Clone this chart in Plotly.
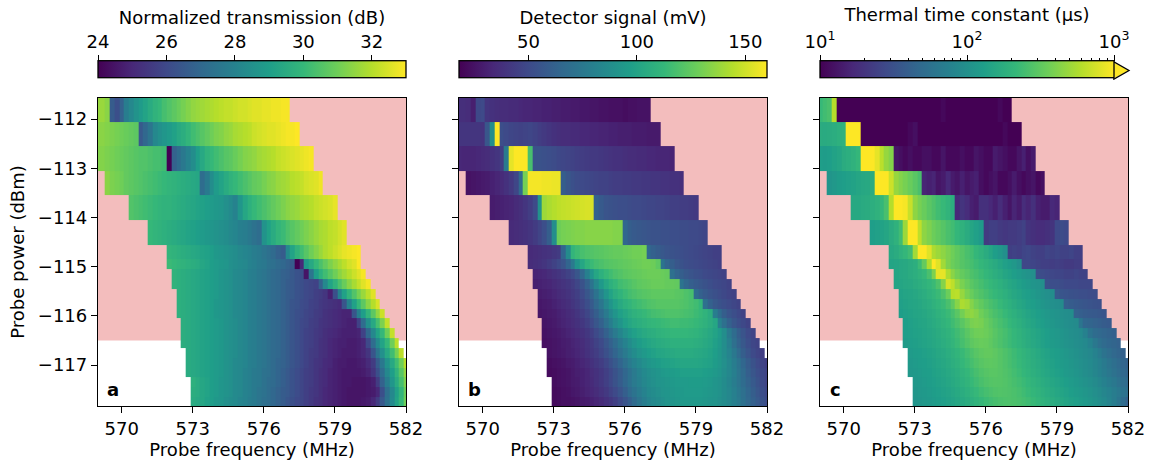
import numpy as np
import plotly.graph_objects as go

W, H = 1153, 467
FONT = "DejaVu Sans"
PINK = "#f3bdbd"

FREQ_TICKS = [570, 573, 576, 579, 582]
POWER_TICKS = [-112, -113, -114, -115, -116, -117]
FREQ_FIRST_EDGE = 568.9
FREQ_STEP = 0.2
N_FREQ = 66
POWER_EDGES = [-111.55, -112.05, -112.55, -113.05, -113.55, -114.05, -114.55, -114.85,
               -115.05, -115.25, -115.45, -115.65, -115.85, -116.05, -116.25, -116.45,
               -116.65, -116.85, -117.05, -117.25, -117.45, -117.65, -117.85]
ROW_STARTS = [0, 0, 0, 2, 7, 11, 15, 15, 16, 16, 17, 17, 17, 18, 18, 18, 19, 19, 19, 20, 20, 20]
ROW_ENDS = [41, 43, 46, 48, 51, 53, 56, 56, 57, 58, 59, 60, 61, 62, 63, 64, 65, 66, 66, 66, 66, 66]

# Normalized transmission, tenths of a dB
TRANSMISSION = [
 [316,316,314,266,262,268,278,282,286,289,292,295,298,300,303,305,307,309,311,313,315,316,317,318,319,320,321,322,322,323,324,324,325,326,326,327,327,328,328,329,329],
 [314,314,313,312,311,310,309,308,307,265,270,275,282,285,287,289,291,294,296,299,302,304,306,308,310,312,313,315,316,318,319,320,321,323,324,325,326,326,327,328,329,329,330],
 [313,313,312,311,310,309,308,307,306,305,305,304,303,303,302,240,268,272,276,280,284,290,294,298,300,302,304,306,307,309,311,313,314,315,317,318,319,320,322,323,324,325,326,327,328,329],
 [314,312,311,310,308,307,306,305,304,303,302,301,300,299,298,297,296,295,294,293,272,277,284,289,292,295,298,300,302,304,306,308,309,311,313,314,316,317,318,320,321,322,324,325,326,328],
 [305,304,303,302,301,300,299,298,298,297,296,295,294,293,292,291,290,289,288,287,285,283,280,287,293,297,300,302,304,306,308,310,312,314,315,316,318,319,320,322,323,324,325,327],
 [300,299,298,297,296,295,294,293,292,291,290,289,288,287,286,285,284,282,281,279,278,276,274,272,286,291,295,299,301,304,306,308,310,312,314,316,318,319,321,322,324,326],
 [299,298,297,296,295,294,293,292,291,290,288,287,286,285,284,282,281,280,278,277,275,273,271,268,266,283,292,298,302,306,310,313,316,319,321,323,325,327,328,329,330],
 [301,300,299,298,297,296,295,293,292,290,289,288,287,285,284,283,282,280,279,277,276,274,273,271,270,268,266,240,250,288,294,300,304,308,312,315,318,321,324,326,330],
 [298,297,296,295,294,293,292,291,290,289,287,286,285,283,282,281,279,278,276,275,273,271,270,268,267,265,263,262,245,275,290,297,302,306,310,314,317,320,323,326,329],
 [298,297,296,295,294,293,292,291,290,289,287,286,285,283,282,281,279,278,276,275,273,271,270,268,266,265,263,262,260,259,258,268,282,292,298,304,309,314,318,322,326,329],
 [297,296,295,294,293,292,291,290,289,287,286,285,283,282,281,279,278,276,275,273,271,270,268,266,265,263,262,260,259,257,256,254,248,262,280,291,299,305,311,316,321,326],
 [297,296,295,294,293,292,291,290,288,287,286,285,283,282,281,279,278,276,275,273,271,270,268,266,264,263,261,260,258,257,255,254,253,252,251,264,280,291,300,307,314,320,325],
 [297,296,295,294,293,292,291,290,288,287,286,285,283,282,281,279,278,276,275,273,271,270,268,266,264,262,261,259,258,256,255,253,252,251,250,249,249,264,279,290,299,307,315,323],
 [296,295,294,293,292,291,290,289,288,286,285,284,282,281,279,278,276,275,273,271,270,268,266,264,262,260,259,257,256,254,253,252,251,250,249,248,248,258,272,285,294,303,312,322],
 [296,295,294,293,292,291,290,289,288,286,285,284,282,281,279,278,276,275,273,271,270,268,266,264,262,260,258,257,255,254,252,251,250,249,248,248,248,249,258,270,282,292,300,310,322],
 [296,295,294,293,292,291,290,289,288,286,285,284,282,281,279,278,276,275,273,271,270,268,266,264,262,260,258,257,255,253,252,250,249,248,248,247,247,248,250,260,272,283,292,300,310,321],
 [295,294,293,292,291,290,289,288,286,285,284,282,281,279,278,276,275,273,271,270,268,266,264,262,260,258,256,255,253,252,250,249,248,247,247,247,248,250,254,264,275,285,294,302,311,321],
 [295,294,293,292,291,290,289,288,286,285,283,282,281,279,278,276,275,273,271,269,268,266,264,262,260,258,256,254,253,251,250,248,247,247,246,246,247,248,251,256,266,276,286,294,302,310,320],
 [295,294,293,292,291,290,289,288,286,285,283,282,280,279,277,276,274,273,271,269,267,265,263,261,259,257,256,254,252,251,249,248,247,246,246,246,246,247,249,254,262,272,282,290,298,306,315],
 [297,295,293,292,290,289,287,286,285,283,282,280,279,277,276,274,272,271,269,267,265,263,261,259,257,256,254,252,251,249,248,247,246,246,245,245,245,246,248,256,268,278,287,295,303,312],
 [296,295,293,292,290,289,287,286,285,283,282,280,279,277,275,274,272,270,268,266,265,263,261,259,257,255,254,252,250,249,248,247,246,245,245,245,245,246,247,250,262,273,282,291,299,309],
 [295,294,293,291,290,288,287,285,284,283,281,280,278,277,275,273,272,270,268,266,264,262,260,259,257,255,253,252,250,249,248,247,246,245,245,245,246,247,250,256,265,274,283,292,300,310],
]

# Detector signal, mV
DETECTOR = [
 [37,37,36,30,49,50,40,38,37,36,36,35,35,34,33,33,32,32,31,31,30,30,29,29,28,28,27,27,26,26,25,25,24,24,24,23,24,24,25,25,25],
 [40,40,40,40,40,39,56,88,166,52,50,48,47,46,47,48,46,44,42,40,38,37,36,36,35,35,34,34,33,33,32,32,31,31,30,30,30,29,29,29,28,28,28],
 [34,33,33,33,34,35,36,38,40,44,76,155,166,166,166,118,54,54,53,52,51,49,48,47,46,45,44,43,42,42,41,40,39,38,38,37,36,36,35,35,34,34,33,33,33,32],
 [25,26,27,28,29,31,33,35,38,42,48,66,130,158,158,158,157,157,156,156,60,56,53,51,50,49,48,47,46,46,45,44,44,43,43,42,42,41,41,40,40,39,39,38,38,37],
 [29,30,31,32,33,35,37,40,44,50,90,139,142,144,146,147,148,149,150,151,152,152,62,58,55,54,53,52,52,51,50,50,49,48,48,47,47,46,45,45,44,44,43,42],
 [35,36,37,38,40,43,47,52,60,88,128,130,131,132,133,133,134,134,134,134,134,134,133,133,65,60,58,57,56,55,54,54,53,53,52,52,51,51,50,50,49,48],
 [35,36,37,38,39,41,43,64,86,111,115,118,120,121,122,123,124,125,126,126,127,128,129,129,130,66,62,59,57,55,54,53,52,51,50,49,48,47,46,45,45],
 [36,37,38,40,43,46,50,55,64,76,92,102,110,114,117,119,121,122,123,124,125,126,127,128,129,129,128,124,72,64,60,56,54,52,51,50,49,48,47,46,45],
 [32,33,34,36,38,40,43,46,50,56,66,80,92,102,108,113,116,119,121,123,124,125,126,127,128,128,128,127,126,70,64,60,57,55,53,52,50,49,48,47,46],
 [30,31,32,33,35,37,39,41,44,48,54,62,72,84,94,102,108,112,116,118,120,122,124,125,126,127,127,127,126,126,125,72,65,61,58,56,54,52,50,49,48,46],
 [29,30,31,33,35,37,39,42,45,50,56,63,72,82,92,100,106,110,114,117,119,121,122,123,124,124,124,124,124,123,122,120,118,68,62,58,55,53,51,49,47,46],
 [27,28,29,31,33,35,37,40,43,47,52,58,66,74,84,92,99,104,108,111,114,116,118,120,121,122,122,122,122,122,121,120,118,116,112,70,62,57,54,52,50,48,46],
 [26,27,28,29,31,33,35,37,40,44,48,54,60,68,76,85,92,98,102,106,109,111,113,115,117,118,119,120,120,120,119,118,117,115,113,110,106,78,68,60,55,52,49,46],
 [26,27,28,30,32,34,36,38,41,45,50,56,62,70,78,86,92,98,102,105,107,109,111,112,113,114,115,116,116,115,115,114,113,111,109,106,102,80,70,62,56,52,49,46],
 [25,26,27,28,30,32,34,36,38,41,45,50,55,62,69,76,83,89,94,98,101,104,106,107,109,110,111,112,112,112,112,111,110,108,106,103,100,95,88,76,68,60,55,50,47],
 [24,25,26,27,29,30,32,34,36,39,42,46,50,56,62,68,75,81,87,92,96,99,101,103,105,106,107,108,108,108,108,108,107,106,104,102,98,94,88,80,70,63,57,52,48,46],
 [25,26,27,28,30,31,33,35,38,41,44,48,53,58,64,70,76,82,87,91,94,97,99,101,102,103,104,105,105,105,105,104,103,102,100,97,93,88,82,75,67,60,55,50,47,45],
 [23,24,25,26,28,29,31,33,35,38,41,44,48,53,58,64,70,76,81,85,89,92,94,96,98,99,100,101,102,102,102,102,101,100,99,96,93,89,84,78,72,65,59,54,50,47,45],
 [22,23,24,25,26,28,30,31,33,36,38,41,45,49,54,59,65,71,76,81,85,88,90,92,94,95,96,97,98,98,98,98,98,97,96,94,92,88,84,79,73,67,61,56,52,49,47],
 [23,24,25,26,28,29,31,33,35,38,41,45,49,54,59,65,71,76,80,84,87,89,91,92,93,94,95,95,95,96,96,96,95,94,92,90,87,83,78,73,68,63,58,54,50,47],
 [22,23,24,25,27,28,30,32,34,36,39,42,46,50,55,61,67,72,77,81,85,87,89,91,92,93,94,94,95,95,95,95,94,93,92,90,87,84,80,75,70,65,60,56,52,49],
 [22,23,24,24,25,26,28,29,31,33,35,38,41,45,50,55,61,67,73,78,82,85,87,89,91,92,93,94,94,94,94,94,93,92,91,89,87,84,80,76,71,66,62,58,54,51],
]

# Thermal time constant, microseconds
TIME_CONSTANT = [
 [220,240,260,600,9,9,9,9,9,9,9,9,9,9,9,9,9,9,9,9,9,9,9,9,9,9,11,9,9,9,9,9,9,9,9,9,9,9,11,9,9],
 [170,165,170,175,185,190,1000,1100,1100,9,9,9,9,9,9,9,9,9,9,11,12,9,9,9,9,9,9,9,9,9,9,9,9,9,9,9,9,9,9,11,9,9,9],
 [130,125,130,140,150,170,180,190,210,1000,1050,1050,850,620,480,420,13,12,11,12,11,11,12,12,11,11,13,11,11,11,12,11,11,13,12,11,11,14,13,12,11,11,13,15,12,14],
 [110,115,125,130,135,140,150,155,160,170,1000,1050,1000,700,480,420,380,340,300,260,16,15,16,13,14,17,14,13,15,13,14,15,12,11,12,13,11,11,12,14,12,11,12,13,11,12],
 [160,160,165,170,180,190,210,260,600,1000,1050,950,680,450,380,340,300,270,240,220,200,180,17,20,18,15,14,19,19,17,15,18,15,13,16,14,18,16,19,15,14,14,17,16],
 [130,135,140,150,170,190,240,500,1000,1000,640,450,400,350,320,290,260,240,210,190,170,150,135,120,22,24,24,22,21,22,22,23,25,20,19,18,18,19,20,28,29,28],
 [160,170,190,210,240,520,1000,1050,800,560,500,450,400,360,320,290,260,240,210,190,170,150,130,115,100,24,25,24,26,27,25,24,24,26,25,26,25,25,26,24,24],
 [145,150,155,160,170,180,230,330,570,1100,800,520,400,350,320,290,270,250,230,210,195,180,165,150,135,125,115,100,27,27,26,25,24,24,23,24,23,22,22,23,23],
 [150,155,160,170,180,195,215,260,400,850,850,560,440,370,330,300,270,250,230,210,195,180,165,150,140,130,120,112,105,100,30,29,28,27,26,26,25,25,26,25,25],
 [145,150,155,160,170,180,190,205,225,270,420,750,640,480,390,340,300,275,250,230,215,200,185,170,155,145,135,125,118,110,105,100,32,30,30,29,28,28,28,27,27,27],
 [140,145,150,155,165,175,190,205,225,270,350,600,620,480,390,340,300,275,250,230,215,200,185,170,155,145,135,128,120,112,105,100,95,36,34,33,32,31,30,30,29,29],
 [135,140,145,150,155,165,175,190,205,225,260,320,430,560,520,420,360,320,285,260,240,220,200,185,170,155,145,135,128,120,112,106,100,96,92,40,38,36,35,34,33,32,31],
 [130,135,140,145,150,155,165,175,190,205,225,255,300,370,440,460,420,360,320,285,260,240,220,200,185,170,158,147,138,130,122,115,110,105,100,97,94,42,40,38,37,36,35,34],
 [130,135,140,145,150,158,168,180,195,212,235,265,300,345,385,400,385,345,310,280,255,235,215,198,182,168,155,145,135,128,120,114,108,103,99,95,91,60,46,44,42,40,38,37],
 [128,132,136,140,146,152,160,170,182,196,215,238,265,300,335,360,365,350,325,295,270,250,230,212,195,180,167,155,145,136,128,121,115,109,104,99,95,90,76,58,50,47,45,43,41],
 [125,129,133,137,142,148,155,164,175,188,204,225,250,280,310,330,340,335,315,290,268,248,230,213,197,183,170,158,148,138,130,123,117,111,106,101,97,93,88,78,64,54,49,46,44,42],
 [122,126,130,135,140,146,154,163,174,187,203,222,245,270,295,315,325,325,310,290,270,250,232,215,200,186,173,161,150,141,133,126,119,113,107,102,97,92,86,77,67,58,52,47,44,42],
 [118,122,126,130,135,141,148,156,166,178,192,210,230,252,275,295,308,312,305,290,272,254,236,220,204,190,177,165,155,146,138,130,123,117,111,105,100,95,89,82,74,66,59,53,48,45,42],
 [115,118,122,126,130,136,142,150,158,168,180,195,212,232,254,275,290,298,298,290,278,262,245,228,212,197,184,172,161,151,143,135,128,121,115,109,103,97,91,84,76,69,62,56,51,47,44],
 [115,118,122,126,131,137,144,152,161,172,185,200,218,238,258,275,285,290,288,280,268,254,240,225,210,196,183,172,162,152,144,136,129,122,116,110,104,98,91,84,76,69,63,57,52,48],
 [112,115,118,122,126,131,137,144,152,161,172,185,200,217,235,252,265,275,280,278,272,262,250,236,222,208,195,183,172,162,153,145,137,130,123,117,111,105,98,91,84,77,70,64,58,53],
 [110,112,115,118,122,126,131,137,144,152,161,172,184,198,213,228,242,254,262,268,270,266,258,248,236,222,208,196,184,173,163,154,146,138,131,124,117,111,104,97,90,80,70,60,50,42],
]

TRANS_TICKS = [24, 26, 28, 30, 32]
TRANS_RANGE = [24, 33]
DET_TICKS = [50, 100, 150]
DET_RANGE = [18, 160]
TAU_TICKS = [10, 100, 1000]
TAU_TICK_TEXT = ["10<sup>1</sup>", "10<sup>2</sup>", "10<sup>3</sup>"]
TAU_MINOR = [20, 30, 40, 50, 60, 70, 80, 90, 200, 300, 400, 500, 600, 700, 800, 900]


def grid(rows):
    z = np.full((len(rows), N_FREQ), np.nan)
    for i, row in enumerate(rows):
        n = ROW_ENDS[i] - ROW_STARTS[i]
        vals = (list(row) + [row[-1]] * n)[:n]
        z[i, ROW_STARTS[i]:ROW_ENDS[i]] = vals
    return z[::-1]


x_edges = FREQ_FIRST_EDGE + FREQ_STEP * np.arange(N_FREQ + 1)
y_edges = POWER_EDGES[::-1]

PX = [(98, 406), (459, 767), (820, 1128)]
BAR_PX = [(98, 406), (459, 767), (820, 1114)]
Y0, Y1 = 1 - 406 / H, 1 - 98 / H
BAR_B, BAR_T = 1 - 79 / H, 1 - 62 / H
TICKFONT = dict(family=FONT, size=18, color="black")


def cbar(px_range):
    left, right = px_range
    return dict(orientation="h", x=left / W, xanchor="left", y=BAR_B, yanchor="bottom",
                len=right - left, lenmode="pixels", thickness=17, thicknessmode="pixels",
                xpad=0, ypad=0, outlinewidth=1.3, outlinecolor="black", ticks="", showticklabels=False)


fig = go.Figure()
fig.add_trace(go.Heatmap(x=x_edges, y=y_edges, z=grid(TRANSMISSION) / 10, xaxis="x", yaxis="y",
                         colorscale="Viridis", zmin=TRANS_RANGE[0], zmax=TRANS_RANGE[1], hoverongaps=False,
                         colorbar=cbar(BAR_PX[0])))
fig.add_trace(go.Heatmap(x=x_edges, y=y_edges, z=grid(DETECTOR), xaxis="x2", yaxis="y2",
                         colorscale="Viridis", zmin=DET_RANGE[0], zmax=DET_RANGE[1], hoverongaps=False,
                         colorbar=cbar(BAR_PX[1])))
fig.add_trace(go.Heatmap(x=x_edges, y=y_edges, z=np.log10(grid(TIME_CONSTANT)), xaxis="x3", yaxis="y3",
                         colorscale="Viridis", zmin=1, zmax=3, hoverongaps=False,
                         colorbar=cbar(BAR_PX[2])))
# invisible anchors so the colorbar scale axes get drawn
for n, xval in zip((4, 5, 6), (TRANS_TICKS[0], DET_TICKS[0], TAU_TICKS[0])):
    fig.add_trace(go.Scatter(x=[xval], y=[0.5], mode="markers", marker=dict(opacity=0), hoverinfo="skip",
                             showlegend=False, xaxis=f"x{n}", yaxis=f"y{n}"))

axis_common = dict(showline=True, mirror=True, linecolor="black", linewidth=1.3, ticks="outside",
                   ticklen=6, tickwidth=1.3, tickcolor="black", showgrid=False, zeroline=False,
                   tickfont=TICKFONT, layer="above traces")
layout = {}
for i, (a, b) in enumerate(PX):
    s = "" if i == 0 else str(i + 1)
    layout["xaxis" + s] = dict(axis_common, domain=[a / W, b / W], range=[569, 582], anchor="y" + s,
                               tickmode="array", tickvals=FREQ_TICKS,
                               title=dict(text="Probe frequency (MHz)", font=TICKFONT, standoff=4))
    layout["yaxis" + s] = dict(axis_common, domain=[Y0, Y1], range=[-117.83, -111.57], anchor="x" + s,
                               tickmode="array", tickvals=POWER_TICKS, showticklabels=i == 0)
layout["yaxis"]["title"] = dict(text="Probe power (dBm)", font=TICKFONT, standoff=8)

scale_common = dict(side="top", ticks="outside", ticklen=6, tickwidth=1.3, tickcolor="black", tickfont=TICKFONT,
                    showgrid=False, zeroline=False, showline=False, tickmode="array")
scales = [
    dict(range=TRANS_RANGE, tickvals=TRANS_TICKS, title=dict(text="Normalized transmission (dB)", font=TICKFONT, standoff=1)),
    dict(range=DET_RANGE, tickvals=DET_TICKS, title=dict(text="Detector signal (mV)", font=TICKFONT, standoff=1)),
    dict(type="log", range=[1, 3], tickvals=TAU_TICKS, ticktext=TAU_TICK_TEXT,
         minor=dict(tickmode="array", tickvals=TAU_MINOR, ticks="outside", ticklen=3.5, tickwidth=1, tickcolor="black"),
         title=dict(text="Thermal time constant (µs)", font=TICKFONT, standoff=1)),
]
for n, (pxr, sc) in enumerate(zip(BAR_PX, scales), start=4):
    layout[f"xaxis{n}"] = dict(scale_common, domain=[pxr[0] / W, pxr[1] / W], anchor=f"y{n}", **sc)
    layout[f"yaxis{n}"] = dict(domain=[BAR_B, BAR_T], range=[0, 1], anchor=f"x{n}", visible=False)

shapes = []
for i in range(3):
    s = "" if i == 0 else str(i + 1)
    shapes.append(dict(type="rect", xref="x" + s, yref="y" + s, x0=569, x1=582, y0=-116.5, y1=-111.57,
                       fillcolor=PINK, line_width=0, layer="below"))
# extend arrow of the thermal colorbar
px = lambda v: v / W
py = lambda v: 1 - v / H
shapes.append(dict(type="path", xref="paper", yref="paper", line_width=0, fillcolor="#fde725", layer="above",
                   path=f"M{px(1112.5)},{py(62.7)} L{px(1114)},{py(62.7)} L{px(1128.5)},{py(70.5)} L{px(1114)},{py(78.3)} L{px(1112.5)},{py(78.3)} Z"))
shapes.append(dict(type="path", xref="paper", yref="paper", line=dict(color="black", width=1.3), layer="above",
                   path=f"M{px(1113)},{py(62)} L{px(1114)},{py(62)} L{px(1129)},{py(70.5)} L{px(1114)},{py(79)} L{px(1113)},{py(79)}"))

annotations = []
for i, letter in enumerate("abc"):
    s = "" if i == 0 else str(i + 1)
    annotations.append(dict(text=f"<b>{letter}</b>", xref=f"x{s} domain", yref=f"y{s} domain", x=0.05, y=0.055,
                            xanchor="center", yanchor="middle", showarrow=False,
                            font=dict(family=FONT, size=18, color="black")))

fig.update_layout(width=W, height=H, margin=dict(l=0, r=0, t=0, b=0, autoexpand=False), autosize=False,
                  paper_bgcolor="white", plot_bgcolor="white", font=dict(family=FONT, color="black"),
                  shapes=shapes, annotations=annotations, showlegend=False, **layout)
fig.write_html("out.html", config=dict(displayModeBar=False),
               post_script="document.body.style.margin='0';document.documentElement.style.overflow='hidden';")
